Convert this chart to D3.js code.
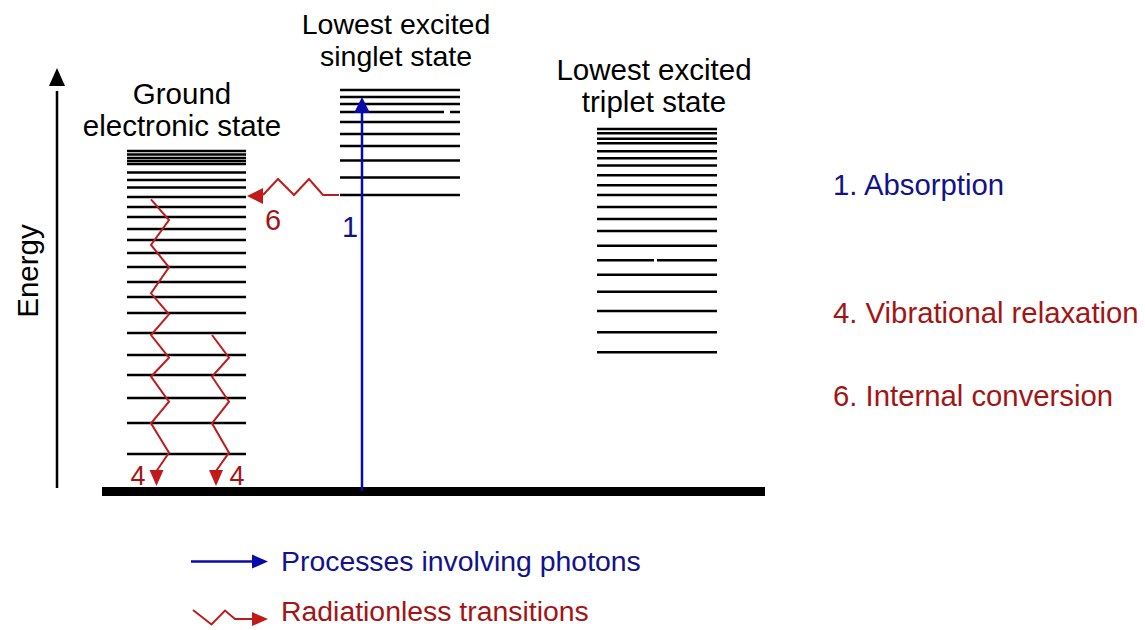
<!DOCTYPE html>
<html><head><meta charset="utf-8">
<script src="https://cdn.jsdelivr.net/npm/d3@7"></script>
<style>body{margin:0;background:#fff}svg{display:block}text{font-family:"Liberation Sans",Arial,sans-serif}</style>
</head><body><svg id="c" width="1145" height="630"></svg>
<script>
// ---- data (energy in arbitrary units above the ground level) ----
const groundLevels = [340,336.5,333,330,327,318.5,311,303.5,294,284,274,262,251,238,224,209,194,178,158,136,116,93,68,37];
const singletLevels = [401,394,387,379,369,357,345,330.5,313.5,296];
const tripletLevels = [362,357.7,352.3,347.7,339.7,332.7,325.5,315.8,305.8,296,284,272,260,245.3,230.7,216.3,199.3,180,158.7,138.7];
const stateTitles = [["Ground","electronic state"],["Lowest excited","singlet state"],["Lowest excited","triplet state"]];
const absorptionFrom = 0, absorptionTo = 394;
const vibRelaxA = [291.7,271,246,223.7,197.7,176.7,156,133.3,114.3,89.3,67.7,38.3];
const vibRelaxB = [156,133.3,114.3,89.3,67.7,38.3];
const internalConv = [296,296,312,296,312,296];
const processLabels = ["1. Absorption","4. Vibrational relaxation","6. Internal conversion"];
const legendLabels = ["Processes involving photons","Radiationless transitions"];
const axisLabel = "Energy";

const svg = d3.select("#c");
const W = 1145, H = 630;
const x = d3.scaleLinear().domain([0, W]).range([0, W]);
const y = d3.scaleLinear().domain([0, 423]).range([491, 68]);
const BLUE = "#0a0aa8", BLUE_T = "#12128a", RED = "#c01a1a", RED_T = "#a31414";

// column extents
const cols = [[127,246],[340,460],[597,717]];
const levelSets = [groundLevels, singletLevels, tripletLevels];

// Energy axis
svg.append("line").attr("x1",x(57)).attr("x2",x(57)).attr("y1",y(3)).attr("y2",y(400))
  .attr("stroke","#000").attr("stroke-width",2.5);
svg.append("path").attr("d",`M${x(57)},${y(423)} L${x(49)},${y(405)} L${x(65)},${y(405)} Z`).attr("fill","#000");
svg.append("text").attr("transform",`translate(${x(38)},${y(220)}) rotate(-90)`).attr("text-anchor","middle")
  .attr("font-size",29.5).text(axisLabel);

// levels
levelSets.forEach((lv,i)=>{
  svg.append("g").selectAll("line").data(lv).join("line")
    .attr("x1",x(cols[i][0])).attr("x2",x(cols[i][1]))
    .attr("y1",d=>y(d)).attr("y2",d=>y(d))
    .attr("stroke","#000").attr("stroke-width",2.6);
});
// small gaps
[[1,379,444,450],[2,230.7,654,657]].forEach(g=>{
  svg.append("rect").attr("x",x(g[2])).attr("width",x(g[3])-x(g[2])).attr("y",y(g[1])-2).attr("height",4).attr("fill","#fff");
});

// ground bar
svg.append("rect").attr("x",x(102)).attr("width",x(765)-x(102)).attr("y",y(0)-4).attr("height",9).attr("fill","#000");

// titles
stateTitles.forEach((t,i)=>{
  const cx = [182,396,654][i], b = [104,34,80][i], fs = [29.5,28.5,29.5][i];
  t.forEach((s,j)=>svg.append("text").attr("x",x(cx)).attr("y",b+j*32).attr("text-anchor","middle").attr("font-size",fs).text(s));
});

// absorption arrow
svg.append("line").attr("x1",x(362)).attr("x2",x(362)).attr("y1",y(absorptionFrom)).attr("y2",y(absorptionTo-14))
  .attr("stroke",BLUE).attr("stroke-width",2.5);
svg.append("path").attr("d",`M${x(362)},${y(absorptionTo)} L${x(354)},${y(absorptionTo-16)} L${x(370)},${y(absorptionTo-16)} Z`).attr("fill",BLUE);
svg.append("text").attr("x",x(350)).attr("y",y(254)).attr("text-anchor","middle").attr("font-size",29).attr("fill",BLUE_T).text("1");

// internal conversion zigzag (x positions of vertices)
const icX = [339,323,309,294,278,263];
const line = d3.line().x(d=>x(d[0])).y(d=>y(d[1]));
svg.append("path").attr("d",line(icX.map((v,i)=>[v,internalConv[i]]))).attr("fill","none").attr("stroke",RED).attr("stroke-width",2);
svg.append("path").attr("d",`M${x(247)},${y(295)} L${x(263)},${y(303)} L${x(263)},${y(287)} Z`).attr("fill",RED);
svg.append("text").attr("x",x(273)).attr("y",y(261)).attr("text-anchor","middle").attr("font-size",29).attr("fill",RED_T).text("6");

// vibrational relaxation zigzags
function zig(vals, xa, xb, xEnd){
  const pts = vals.map((v,i)=>[i%2===0?xa:xb, v]);
  pts.push([xEnd, 20]);
  svg.append("path").attr("d",line(pts)).attr("fill","none").attr("stroke",RED).attr("stroke-width",2);
  svg.append("path").attr("d",`M${x(xEnd)},${y(5)} L${x(xEnd-7)},${y(21)} L${x(xEnd+7)},${y(21)} Z`).attr("fill",RED);
}
zig(vibRelaxA,151,169,156.5);
zig(vibRelaxB,212,229,216);
svg.append("text").attr("x",x(138)).attr("y",y(6)).attr("text-anchor","middle").attr("font-size",27).attr("fill",RED_T).text("4");
svg.append("text").attr("x",x(237)).attr("y",y(6)).attr("text-anchor","middle").attr("font-size",27).attr("fill",RED_T).text("4");

// process labels
processLabels.forEach((s,i)=>{
  svg.append("text").attr("x",833).attr("y",[195,323,406][i]).attr("font-size",29.3)
    .attr("fill",i===0?BLUE_T:RED_T).text(s);
});

// bottom legend
svg.append("line").attr("x1",191).attr("x2",254).attr("y1",561.5).attr("y2",561.5).attr("stroke",BLUE).attr("stroke-width",2.5);
svg.append("path").attr("d","M268,561.5 L252,554.5 L252,568.5 Z").attr("fill",BLUE);
svg.append("text").attr("x",281).attr("y",571).attr("font-size",28.4).attr("fill",BLUE_T).text(legendLabels[0]);
svg.append("path").attr("d","M193,610 L211.5,624.5 L225,610.5 L235,619 L254,619").attr("fill","none").attr("stroke",RED).attr("stroke-width",2);
svg.append("path").attr("d","M268,619 L252,612 L252,626 Z").attr("fill",RED);
svg.append("text").attr("x",281).attr("y",621).attr("font-size",28.4).attr("fill",RED_T).text(legendLabels[1]);
</script></body></html>
